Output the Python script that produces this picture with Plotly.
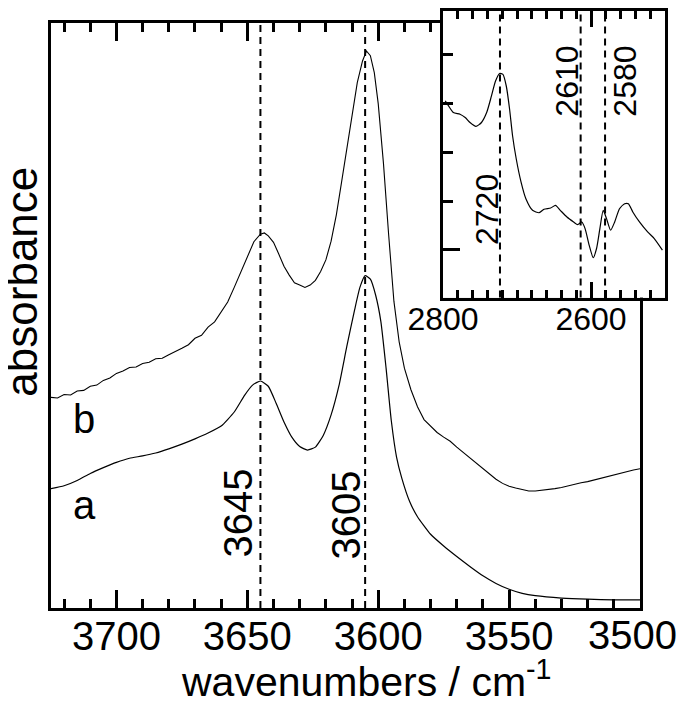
import plotly.graph_objects as go

# main spectra (wavenumber / cm-1, absorbance in arbitrary units)
wn_a = [3725, 3720, 3715, 3710, 3705, 3700, 3695, 3690, 3685, 3680, 3675, 3670,
        3665, 3660, 3655, 3651, 3648, 3645, 3642, 3639, 3636, 3633, 3630, 3627,
        3624, 3621, 3618, 3615, 3612, 3609, 3607, 3605, 3603, 3601, 3599, 3597,
        3595, 3593, 3591, 3588, 3585, 3580, 3575, 3570, 3565, 3560, 3555, 3550,
        3545, 3540, 3530, 3520, 3510, 3500]
abs_a = [0.204, 0.209, 0.218, 0.230, 0.240, 0.249, 0.256, 0.260, 0.265, 0.272, 0.280, 0.289,
         0.299, 0.311, 0.335, 0.364, 0.381, 0.388, 0.379, 0.350, 0.318, 0.292, 0.276, 0.270,
         0.275, 0.295, 0.330, 0.380, 0.447, 0.510, 0.548, 0.568, 0.562, 0.535, 0.490, 0.410,
         0.320, 0.258, 0.222, 0.182, 0.156, 0.126, 0.106, 0.088, 0.071, 0.055, 0.042, 0.032,
         0.025, 0.021, 0.017, 0.015, 0.014, 0.014]

wn_b = [3725.0, 3722.5, 3720.0, 3717.5, 3715.0, 3712.5, 3710.0, 3707.5, 3705.0, 3702.5,
        3700.0, 3697.5, 3695.0, 3692.5, 3690.0, 3687.5, 3685.0, 3682.5, 3680.0, 3677.5,
        3675.0, 3672.5, 3670.0, 3667.5, 3665.0, 3662.5, 3660.0, 3657.5, 3655.0, 3652.5,
        3650.0, 3647.5, 3645.0, 3643.5, 3642.0, 3640.0, 3638.0, 3636.0, 3634.0, 3632.0,
        3630.0, 3628.0, 3626.0, 3624.0, 3622.0, 3620.0, 3618.0, 3616.0, 3614.0, 3612.0,
        3610.0, 3608.0, 3606.0, 3604.5, 3603.0, 3601.5, 3600.0, 3598.0, 3596.0, 3594.0,
        3592.0, 3590.0, 3587.5, 3585.0, 3582.5, 3580.0, 3577.5, 3575.0, 3572.5, 3570.0,
        3567.5, 3565.0, 3562.5, 3560.0, 3557.5, 3555.0, 3552.5, 3550.0, 3547.5, 3545.0,
        3542.5, 3540.0, 3537.5, 3535.0, 3532.5, 3530.0, 3527.5, 3525.0, 3522.5, 3520.0,
        3517.5, 3515.0, 3512.5, 3510.0, 3507.5, 3505.0, 3502.5, 3500.0]
abs_b = [0.360, 0.359, 0.365, 0.364, 0.371, 0.372, 0.379, 0.381, 0.389, 0.393,
         0.401, 0.405, 0.411, 0.412, 0.418, 0.420, 0.426, 0.427, 0.433, 0.438,
         0.444, 0.450, 0.461, 0.466, 0.480, 0.489, 0.505, 0.523, 0.548, 0.574,
         0.602, 0.626, 0.639, 0.641, 0.636, 0.625, 0.605, 0.584, 0.569, 0.556,
         0.552, 0.548, 0.552, 0.560, 0.575, 0.595, 0.627, 0.672, 0.728, 0.787,
         0.843, 0.898, 0.935, 0.952, 0.944, 0.915, 0.862, 0.760, 0.637, 0.524,
         0.455, 0.410, 0.373, 0.344, 0.322, 0.311, 0.300, 0.292, 0.285, 0.275,
         0.266, 0.257, 0.248, 0.238, 0.229, 0.220, 0.213, 0.208, 0.205, 0.203,
         0.200, 0.200, 0.201, 0.202, 0.204, 0.206, 0.209, 0.211, 0.214, 0.216,
         0.219, 0.222, 0.225, 0.228, 0.231, 0.233, 0.236, 0.238]

# inset spectrum (OD region)
wn_in = [2797, 2792.5, 2786, 2777, 2770, 2763.5, 2755.5, 2748, 2741, 2734.5,
         2729, 2723.5, 2719, 2714.5, 2710, 2706, 2701, 2694.5, 2688, 2679,
         2670, 2663.5, 2654.5, 2648, 2641.5, 2632.5, 2623.5, 2618, 2612.5, 2608,
         2602.5, 2597, 2592.5, 2588, 2583.5, 2579, 2573.5, 2568, 2561.5, 2554.5,
         2549.5, 2543.5, 2534.5, 2523.5, 2514.5, 2503.5]
abs_in = [3.055, 2.953, 2.816, 2.782, 2.714, 2.612, 2.531, 2.612, 2.816, 3.157,
          3.463, 3.618, 3.598, 3.361, 2.884, 2.341, 1.863, 1.388, 1.047, 0.810,
          0.761, 0.831, 0.857, 0.912, 0.810, 0.673, 0.571, 0.516, 0.571, 0.435,
          0.096, -0.163, 0.027, 0.435, 0.810, 0.639, 0.402, 0.571, 0.843, 0.945,
          0.945, 0.776, 0.571, 0.367, 0.231, -0.006]

main_ticks = [3700, 3650, 3600, 3550]
last_tick = '3500'
main_marks = [3645, 3605]
main_labels = ['3645', '3605']
inset_marks = [2723, 2614, 2581]
inset_labels = ['2720', '2610', '2580']

FONT = 'Arial, Liberation Sans, sans-serif'
# the page body adds an 8px margin, so the figure is a bit smaller than the window
OFF = 8
W, H = 671, 689
L, R, T, B = 43, 14, 0, 89


def px(x):
    # page pixel -> paper fraction
    return (x - OFF - L) / (W - L - R)


def py(y):
    return (H - B - (y - OFF)) / (H - T - B)


fig = go.Figure()
fig.add_trace(go.Scatter(x=wn_a, y=abs_a, mode='lines', xaxis='x', yaxis='y',
                         line=dict(color='black', width=1.2, shape='spline', smoothing=0.5)))
fig.add_trace(go.Scatter(x=wn_b, y=abs_b, mode='lines', xaxis='x', yaxis='y',
                         line=dict(color='black', width=1.1)))
fig.add_trace(go.Scatter(x=wn_in, y=abs_in, mode='lines', xaxis='x2', yaxis='y2',
                         line=dict(color='black', width=1.2, shape='spline', smoothing=0.6)))

shapes = [dict(type='rect', xref='x2 domain', yref='y2 domain', x0=0, x1=1, y0=0, y1=1,
               fillcolor='#d3d3d3', line_width=0, layer='below')]
for m in main_marks:
    shapes.append(dict(type='line', xref='x', yref='y domain', x0=m, x1=m, y0=0, y1=1,
                       line=dict(color='black', width=2, dash='7px,5px')))
for m in inset_marks:
    shapes.append(dict(type='line', xref='x2', yref='y2 domain', x0=m, x1=m, y0=0, y1=1,
                       line=dict(color='black', width=2, dash='7px,5px')))

annotations = [
    dict(text=main_labels[0], x=px(238), y=py(513), textangle=-90, font=dict(size=40)),
    dict(text=main_labels[1], x=px(346), y=py(515), textangle=-90, font=dict(size=40)),
    dict(text='b', x=px(84), y=py(418), font=dict(size=40)),
    dict(text='a', x=px(84), y=py(504), font=dict(size=40)),
    dict(text=inset_labels[0], x=px(487), y=py(208), textangle=-90, font=dict(size=32)),
    dict(text=inset_labels[1], x=px(567), y=py(79), textangle=-90, font=dict(size=32)),
    dict(text=inset_labels[2], x=px(625), y=py(79), textangle=-90, font=dict(size=32)),
    dict(text='wavenumbers / cm<sup>-1</sup>', x=px(366), y=py(679), font=dict(size=41)),
    dict(text='absorbance', x=px(22), y=py(280), textangle=-90, font=dict(size=44)),
    # last tick label sits at the window edge, keep it inside the figure
    dict(text=last_tick, x=px(679), y=py(635), xanchor='right', font=dict(size=40)),
]
for a in annotations:
    a.setdefault('xanchor', 'center')
    a.update(xref='paper', yref='paper', showarrow=False, yanchor='middle')

frame = dict(showline=True, linewidth=3, linecolor='black', showgrid=False, zeroline=False)

fig.update_layout(
    width=W, height=H,
    margin=dict(l=L, r=R, t=T, b=B),
    paper_bgcolor='white', plot_bgcolor='white',
    font=dict(family=FONT, color='black'),
    showlegend=False,
    shapes=shapes,
    annotations=annotations,
    xaxis=dict(domain=[0, px(640)], range=[3725, 3500], anchor='y', mirror='ticks',
               ticks='inside', ticklen=18, tickwidth=2.5, tickcolor='black',
               tickvals=main_ticks, tickfont=dict(size=40), ticklabelstandoff=-9,
               minor=dict(ticks='inside', ticklen=9, tickwidth=2.5, tickcolor='black',
                          tick0=3500, dtick=10),
               **frame),
    yaxis=dict(domain=[0, py(20)], range=[0, 1], anchor='x', mirror=True,
               ticks='', showticklabels=False, **frame),
    xaxis2=dict(domain=[px(443), px(665)], range=[2800, 2500], anchor='y2', mirror='ticks',
                ticks='inside', ticklen=16, tickwidth=2.5, tickcolor='black',
                tick0=2600, dtick=200, tickfont=dict(size=32), ticklabelstandoff=-9,
                minor=dict(ticks='inside', ticklen=8, tickwidth=2.5, tickcolor='black', dtick=20),
                **frame),
    yaxis2=dict(domain=[py(296), 1], range=[-0.98, 4.9], anchor='x2', mirror=True,
                ticks='inside', ticklen=17, tickwidth=2.5, tickcolor='black',
                tick0=0, dtick=5, showticklabels=False,
                minor=dict(ticks='inside', ticklen=10, tickwidth=2.5, tickcolor='black', dtick=1),
                **frame),
)

fig.write_html('out.html')
